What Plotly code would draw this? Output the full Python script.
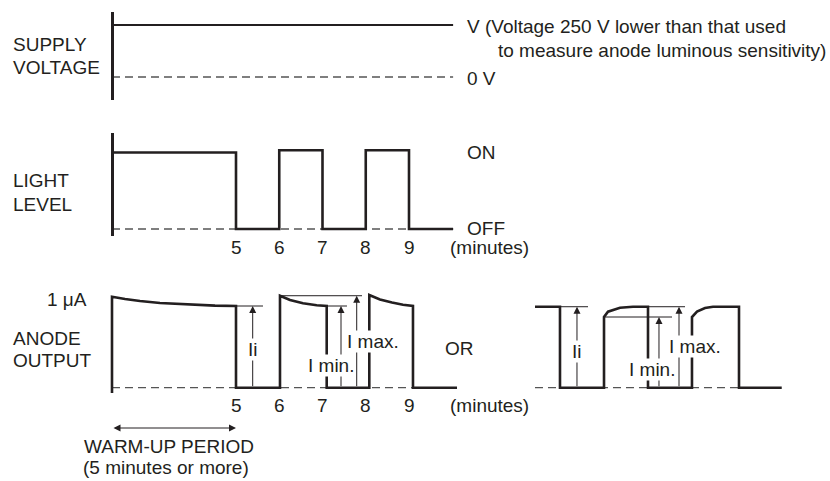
import plotly.graph_objects as go

# ---------------- data (minutes / levels) ----------------
# Supply voltage (1 = V, 0 = 0 V)
supply_t = [2.133, 10.02]
supply_v = [1, 1]
supply_zero = [0, 0]

# Light level (1 = ON, 0 = OFF)
light_t = [2.133, 5.0, 5.0, 6.0, 6.0, 7.0, 7.0, 8.0, 8.0, 9.0, 9.0, 10.02]
light_v = [1.0, 1.0, 0, 0, 1.03, 1.03, 0, 0, 1.03, 1.03, 0, 0]
light_off_t = [2.133, 10.02]
light_off_v = [0, 0]
light_ticks = [5, 6, 7, 8, 9]

# Anode output (µA) - decaying type
anode_t = [2.133, 2.133, 2.434, 2.780, 3.243, 3.936, 4.514, 5.0, 5.0,
           6.017, 6.017, 6.249, 6.549, 6.866, 7.097, 7.097,
           8.082, 8.082, 8.329, 8.607, 8.861, 9.092, 9.092, 10.11]
anode_i = [-0.058, 0.992, 0.967, 0.945, 0.924, 0.904, 0.895, 0.891, 0,
           0, 1.003, 0.956, 0.920, 0.899, 0.891, 0,
           0, 1.011, 0.962, 0.929, 0.904, 0.891, 0, 0]
anode_base_t = [2.133, 10.11]
anode_ticks = [5, 6, 7, 8, 9]

# Anode output (µA) - rising type ("OR")
alt_t = [11.913, 12.491, 12.491, 13.509, 13.509, 13.601, 13.879, 14.179, 14.526, 14.526,
         15.543, 15.543, 15.659, 15.844, 16.029, 16.630, 16.630, 17.618]
alt_i = [0.883, 0.883, 0, 0, 0.771, 0.829, 0.872, 0.883, 0.883, 0,
         0, 0.771, 0.831, 0.869, 0.883, 0.883, 0, 0]
alt_base_t = [11.913, 17.618]

# Reference lines (start, end, level)
ref_t0 = [5.0, 6.017, 7.104, 12.491, 13.509, 14.526]
ref_t1 = [5.624, 7.913, 7.566, 13.139, 15.081, 15.382]
ref_lv = [0.891, 1.003, 0.891, 0.883, 0.771, 0.883]

# Measurement arrows (position, top level)
arrow_t = [5.386, 7.428, 7.791, 12.884, 14.780, 15.243]
arrow_top = [0.891, 0.891, 1.003, 0.883, 0.771, 0.883]

warmup_t = [2.133, 5.0]

# ---------------- styling / layout ----------------
W, H = 830, 481
INK = "#231f20"
DASH = "#555555"
FONT = "Liberation Sans, Arial, Helvetica, sans-serif"
FS = 19
X_RANGE = [5 - 236 / 43.25, 5 + 594 / 43.25]


def py(p):
    return 1 - p / H


def px(p):
    return p / W


fig = go.Figure()

thick = dict(color=INK, width=2.6)
dashed = dict(color=DASH, width=1.3, dash="8px,5px")
thin = dict(color=INK, width=1)

# supply panel
fig.add_trace(go.Scatter(x=supply_t, y=supply_zero, mode="lines", line=dashed, yaxis="y"))
fig.add_trace(go.Scatter(x=supply_t, y=supply_v, mode="lines", line=dict(color=INK, width=2.2), yaxis="y"))

# light panel
fig.add_trace(go.Scatter(x=light_off_t, y=light_off_v, mode="lines", line=dashed, yaxis="y2"))
fig.add_trace(go.Scatter(x=light_t, y=light_v, mode="lines", line=thick, yaxis="y2"))

# anode panel
fig.add_trace(go.Scatter(x=anode_base_t, y=[0, 0], mode="lines", line=dashed, yaxis="y3"))
fig.add_trace(go.Scatter(x=alt_base_t, y=[0, 0], mode="lines", line=dashed, yaxis="y3"))
for a, b, lv in zip(ref_t0, ref_t1, ref_lv):
    fig.add_trace(go.Scatter(x=[a, b], y=[lv, lv], mode="lines", line=thin, yaxis="y3"))
fig.add_trace(go.Scatter(x=anode_t, y=anode_i, mode="lines", line=thick, yaxis="y3"))
fig.add_trace(go.Scatter(x=alt_t, y=alt_i, mode="lines", line=thick, yaxis="y3"))

annotations = []
for t, top in zip(arrow_t, arrow_top):
    annotations.append(dict(x=t, y=top, ax=t, ay=0, xref="x", yref="y3", axref="x", ayref="y3",
                            text="", showarrow=True, arrowhead=2, arrowsize=1.4,
                            arrowwidth=1, arrowcolor=INK, standoff=0, startstandoff=0))

# warm-up double arrow
annotations.append(dict(x=warmup_t[1], y=py(428), ax=warmup_t[0], ay=0,
                        xref="x", yref="paper", axref="x", ayref="pixel",
                        text="", showarrow=True, arrowhead=2, arrowside="end+start",
                        arrowsize=1.4, arrowwidth=1, arrowcolor=INK, standoff=0, startstandoff=0))


def txt(s, x, y, xanchor="left", xref="paper", bg=None):
    d = dict(text=s, x=x, y=py(y), xref=xref, yref="paper", xanchor=xanchor, yanchor="middle",
             showarrow=False, font=dict(family=FONT, size=FS, color=INK))
    if xref == "paper":
        d["x"] = px(x)
    if bg:
        d["bgcolor"] = bg
        d["borderpad"] = 0
    annotations.append(d)


txt("SUPPLY", 11, 45)
txt("VOLTAGE", 11, 67.5)
txt("LIGHT", 11, 181)
txt("LEVEL", 11, 204)
txt("1 μA", 45, 299)
txt("ANODE", 11, 338)
txt("OUTPUT", 11, 360.5)

txt("V (Voltage 250 V lower than that used", 465, 26)
txt("to measure anode luminous sensitivity)", 496, 50)
txt("0 V", 465, 78)
txt("ON", 465, 153)
txt("OFF", 465, 228)

for t in light_ticks:
    txt(str(t), t, 247, xanchor="center", xref="x")
txt("(minutes)", 448, 247)
for t in anode_ticks:
    txt(str(t), t, 405, xanchor="center", xref="x")
txt("(minutes)", 448, 405)

txt("Ii", 253, 349, xanchor="center", bg="white")
txt("I min.", 331, 365, xanchor="center", bg="white")
txt("I max.", 373, 341, xanchor="center", bg="white")
txt("OR", 459, 348, xanchor="center")
txt("Ii", 577, 351, xanchor="center", bg="white")
txt("I min.", 652, 369, xanchor="center", bg="white")
txt("I max.", 695, 346, xanchor="center", bg="white")

txt("WARM-UP PERIOD", 169, 446, xanchor="center")
txt("(5 minutes or more)", 166, 467, xanchor="center")

hidden = dict(showgrid=False, zeroline=False, showticklabels=False, ticks="")
axline = dict(showline=True, linecolor=INK, linewidth=2.6, anchor="free", position=px(112))

fig.update_layout(
    width=W, height=H,
    margin=dict(l=0, r=0, t=0, b=0),
    paper_bgcolor="white", plot_bgcolor="white",
    showlegend=False,
    xaxis=dict(range=X_RANGE, visible=False, fixedrange=True),
    yaxis=dict(domain=[py(100), py(12)], range=[-0.4423, 1.25], **hidden, **axline),
    yaxis2=dict(domain=[py(236), py(133)], range=[-0.0915, 1.2549], **hidden, **axline),
    yaxis3=dict(domain=[py(400), py(285)], range=[-0.1341, 1.1200], visible=False),
    annotations=annotations,
    hovermode=False,
)

fig.write_html("out.html", config={"displayModeBar": False},
               post_script="document.body.style.margin='0';document.body.style.overflow='hidden';")
